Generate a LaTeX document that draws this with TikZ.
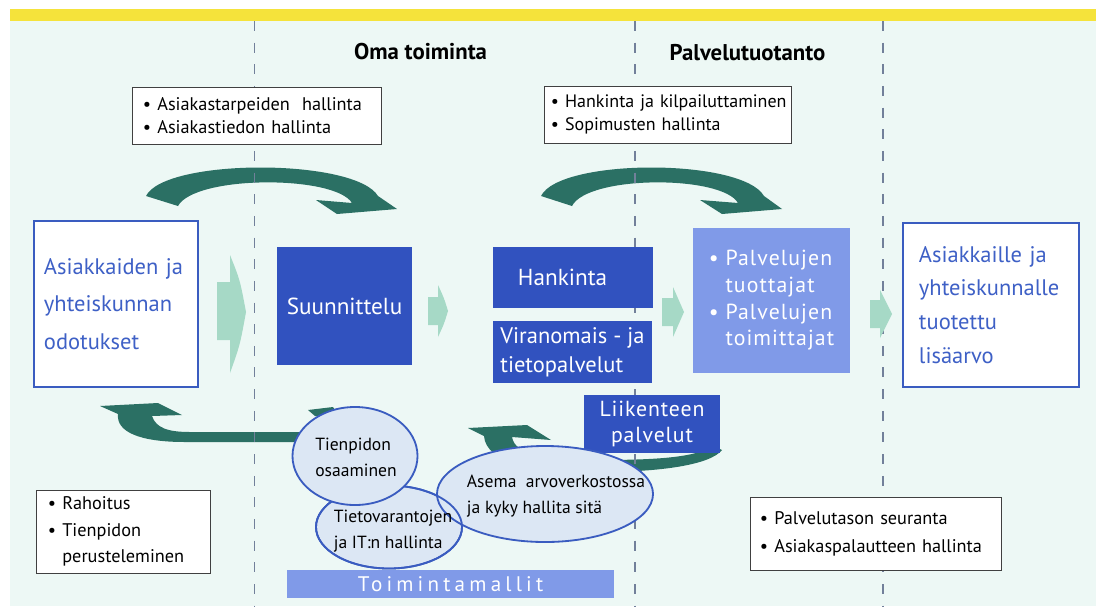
\documentclass[tikz,border=0pt]{standalone}
\usepackage{fontspec}
\setmainfont{PT Sans}
\usetikzlibrary{shapes.geometric}

\definecolor{panel}{HTML}{EDF8F5}
\definecolor{baryellow}{HTML}{F5E33B}
\definecolor{dashgray}{HTML}{72809A}
\definecolor{deepblue}{HTML}{3152BF}
\definecolor{softblue}{HTML}{809AE8}
\definecolor{rimblue}{HTML}{3A5CC0}
\definecolor{inkblue}{HTML}{3E60C6}
\definecolor{ovalfill}{HTML}{DCE7F4}
\definecolor{loopteal}{HTML}{2B7064}
\definecolor{palemint}{HTML}{A6D9C6}

\begin{document}
\begin{tikzpicture}[x=0.025cm, y=-0.025cm,
  listbox/.style={draw=black!75, fill=white, line width=0.6pt, align=left, font=\fontsize{13}{16.3}\selectfont},
  framebox/.style={draw=rimblue, line width=1.5pt, fill=white, text=inkblue, align=left},
  darkbox/.style={fill=deepblue, text=white, font=\fontsize{16.5}{20}\selectfont},
  lightbox/.style={fill=softblue, text=white},
  oval/.style={ellipse, draw=rimblue, line width=1.3pt, fill=ovalfill, inner sep=0pt},
  rim/.style={ellipse, draw=rimblue, line width=1.3pt, inner sep=0pt},
  ovaltext/.style={align=left, font=\fontsize{12.5}{18.5}\selectfont},
  heading/.style={font=\fontsize{16.2}{18}\selectfont\bfseries},
  chevron/.style={fill=palemint},
  swirl/.style={fill=loopteal},
  divider/.style={dashgray, line width=0.9pt, dash pattern=on 7.1pt off 8.3pt},
  skillsize/.style={minimum width=3.125cm, minimum height=2.45cm},
  datasize/.style={minimum width=3.65cm, minimum height=2.075cm},
  networksize/.style={minimum width=5.4cm, minimum height=2.4cm}]
\useasboundingbox (0,0) rectangle (1096,606);
% background and top bar
\fill[white] (0,0) rectangle (1096,606);
\fill[panel] (10,21) rectangle (1096,606);
\fill[baryellow] (10,9) rectangle (1096,21);

% curved arrows
\fill[swirl] (146,196) .. controls (165,158) and (355,158) .. (378,196) -- (397,209) -- (337,214) -- (316,200) -- (352,203) .. controls (335,175) and (195,175) .. (178,206) -- cycle;
\fill[swirl] (541,196) .. controls (560,158) and (742,158) .. (764,196) -- (782,209) -- (722,214) -- (700,200) -- (738,203) .. controls (722,175) and (588,175) .. (572,206) -- cycle;
\fill[swirl] (320,442) -- (185,442) .. controls (140,442) and (116,432) .. (118,414) -- (100,406) -- (158,403) -- (182,415) -- (152,416) .. controls (156,428) and (168,432) .. (190,432) -- (320,432) -- cycle;
\fill[swirl] (712,445) .. controls (700,458) and (650,460) .. (600,460) .. controls (545,460) and (515,455) .. (512,437) -- (551,440) -- (527,425) -- (468,428) -- (484,436) .. controls (486,462) and (530,472) .. (600,472) .. controls (660,472) and (710,465) .. (722,450) -- cycle;
\fill[swirl] (308,410) -- (333,407) -- (340,418) -- (315,416) -- cycle;

% column dividers
\draw[divider] (254.5,21) -- (254.5,606);
\draw[divider] (635,21) -- (635,606);
\draw[divider] (883,21) -- (883,606);

\node[heading] (own) at (420.5,52) {Oma toiminta};
\node[heading] (production) at (747.5,53) {Palvelutuotanto};

\node[listbox, text width=5.675cm, inner xsep=0.275cm, minimum height=1.425cm] (needs) at (256.5,115.5) {• Asiakastarpeiden\ \ hallinta\\• Asiakastiedon hallinta};
\node[listbox, text width=5.825cm, inner xsep=0.175cm, minimum height=1.425cm, font=\fontsize{12.8}{16.3}\selectfont] (contracts) at (667.5,114.5) {\mbox{• Hankinta ja kilpailuttaminen}\\• Sopimusten hallinta};
\node[listbox, text width=3.75cm, inner xsep=0.3cm, minimum height=2.075cm, font=\fontsize{13}{19}\selectfont] (funding) at (123,531.5) {• Rahoitus\\• Tienpidon\\\phantom{• }perusteleminen};
\node[listbox, text width=5.775cm, inner xsep=0.25cm, minimum height=1.825cm, font=\fontsize{13}{20}\selectfont] (followup) at (875.5,533.5) {• Palvelutason seuranta\\• Asiakaspalautteen hallinta};

\node[framebox, text width=3.6cm, inner xsep=0.25cm, minimum height=4.15cm, font=\fontsize{16}{26.5}\selectfont] (expect) at (116,304) {Asiakkaiden ja\\yhteiskunnan\\odotukset};
\node[framebox, text width=3.6cm, inner xsep=0.4cm, minimum height=4.1cm, font=\fontsize{16}{24}\selectfont] (value) at (991,305) {Asiakkaille ja\\yhteiskunnalle\\tuotettu\\lisäarvo};

\node[darkbox, minimum width=3.375cm, minimum height=2.95cm] (plan) at (344.5,306) {Suunnittelu};
\node[darkbox, text width=2.75cm, inner xsep=0.625cm, minimum height=1.525cm, align=left] (procure) at (573,277.5) {Hankinta};
\node[darkbox, minimum width=3.975cm, minimum height=1.55cm, align=left, font=\fontsize{16}{20.5}\selectfont] (authority) at (572.5,352) {Viranomais - ja\\tietopalvelut};
\node[darkbox, minimum width=3.4cm, minimum height=1.45cm, align=center, font=\fontsize{15.5}{18.5}\selectfont\addfontfeature{LetterSpace=4}] (traffic) at (652,424) {Liikenteen\\palvelut};
\node[lightbox, minimum width=3.925cm, minimum height=3.625cm, align=left, font=\fontsize{15.5}{19}\selectfont\addfontfeature{LetterSpace=5}] (makers) at (771.5,300.5) {• Palvelujen\\\phantom{• }tuottajat\\• Palvelujen\\\phantom{• }toimittajat};

% flow chevrons
\fill[chevron] (217,282) -- (230,282) -- (230,255) .. controls (240,280) .. (246,312) .. controls (240,345) .. (230,373) -- (230,340) -- (217,340) -- cycle;
\fill[chevron] (428,297) -- (438,297) -- (438,285) .. controls (444,298) .. (448,311) .. controls (444,324) .. (438,337) -- (438,325) -- (428,325) -- cycle;
\fill[chevron] (662,298) -- (673,298) -- (673,287) .. controls (679,300) .. (684,312) .. controls (679,325) .. (673,337) -- (673,326) -- (662,326) -- cycle;
\fill[chevron] (870,300) -- (880,300) -- (880,290) .. controls (886,302) .. (892,314) .. controls (886,326) .. (880,338) -- (880,328) -- (870,328) -- cycle;

% competences
\node[oval, datasize] (data) at (389,527) {};
\node[oval, networksize] (network) at (545,494) {};
\node[rim, datasize] (datarim) at (data) {};
\node[oval, skillsize] (skill) at (355,456) {};
\node[ovaltext] (skilltext) at (356,457.5) {Tienpidon\\osaaminen};
\node[ovaltext] (datatext) at (393,531.5) {Tietovarantojen\\ja IT:n hallinta};
\node[ovaltext] (networktext) at (556,496) {Asema\ \ arvoverkostossa\\ja kyky hallita sitä};

\node[lightbox, minimum width=8.175cm, minimum height=0.7cm, font=\fontsize{15}{18}\selectfont\addfontfeature{LetterSpace=20}] (models) at (450.5,584) {Toimintamallit};

\end{tikzpicture}
\end{document}
